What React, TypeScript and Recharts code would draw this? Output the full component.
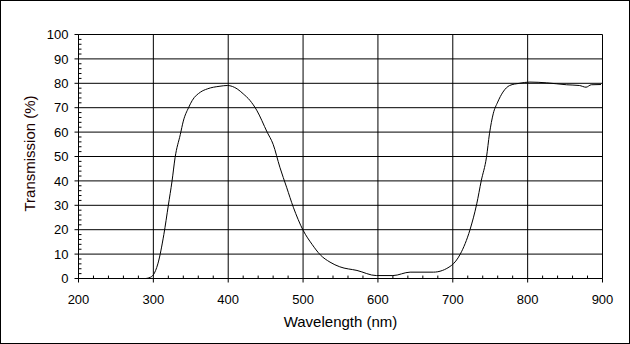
import { LineChart, Line, XAxis, YAxis, CartesianGrid, ReferenceLine } from 'recharts';

// measured transmission curve (nm, %)
const wavelength = [
  290, 296, 300, 306, 314, 320, 325, 329, 336, 340, 347, 352, 363, 372, 389, 399, 412, 420, 429, 438,
  452, 460, 469, 478, 487, 500, 512, 523, 536, 549, 572, 598, 620, 643, 674, 698, 710, 723, 732, 738,
  745, 749, 754, 760, 767, 776, 789, 803, 825, 852, 869, 878, 885, 898,
];
const transmission = [
  0, 0.5, 1.5, 6, 18, 30, 40, 49.5, 59, 64.5, 70, 73, 76.4, 77.7, 78.8, 79.1, 77.7, 75.7, 73, 69,
  60, 55, 45.6, 37.4, 29.2, 19.8, 14, 9.7, 6.7, 4.8, 3.3, 1.2, 1.2, 2.6, 2.6, 5.3, 10, 20, 30.6, 40,
  49.7, 59.3, 67.5, 72.3, 76.4, 79.1, 80, 80.5, 80.2, 79.4, 79.1, 78.4, 79.4, 79.5,
];

const xTicks = [200, 300, 400, 500, 600, 700, 800, 900];
const yTicks = [0, 10, 20, 30, 40, 50, 60, 70, 80, 90, 100];
const xMinor = [220, 240, 260, 280, 320, 340, 360, 380, 420, 440, 460, 480, 520, 540, 560, 580,
  620, 640, 660, 680, 720, 740, 760, 780, 820, 840, 860, 880];
const yMinor = [2, 4, 6, 8, 12, 14, 16, 18, 22, 24, 26, 28, 32, 34, 36, 38, 42, 44, 46, 48,
  52, 54, 56, 58, 62, 64, 66, 68, 72, 74, 76, 78, 82, 84, 86, 88, 92, 94, 96, 98];

const data = wavelength.map((w, i) => ({ w, t: transmission[i] }));

const font = '"Liberation Sans", Arial, sans-serif';
const tickStyle = { fontSize: 13, fill: '#000', fontFamily: font };

export default function App() {
  return (
    <div
      style={{
        position: 'absolute',
        left: 0,
        top: 0,
        width: 630,
        height: 344,
        border: '1px solid #000',
        boxSizing: 'border-box',
        background: '#fff',
      }}
    >
      <LineChart
        width={628}
        height={342}
        data={data}
        margin={{ top: 33.5, right: 26.5, bottom: 34.5, left: 17.5 }}
      >
        <CartesianGrid stroke="#000" strokeWidth={1} />
        <XAxis
          dataKey="w"
          type="number"
          domain={[200, 900]}
          ticks={xTicks}
          interval={0}
          stroke="#000"
          tickSize={4}
          tickMargin={12}
          tick={tickStyle}
          height={30}
          label={(props: any) => (
            <text x={339.5} y={326.3} textAnchor="middle" fontSize={15} fontFamily={font} fill="#000">
              Wavelength (nm)
            </text>
          )}
        />
        <YAxis
          type="number"
          domain={[0, 100]}
          ticks={yTicks}
          interval={0}
          stroke="#000"
          tickSize={4}
          tickMargin={6}
          tick={tickStyle}
          width={60}
          label={(props: any) => (
            <text
              x={34}
              y={152.5}
              transform="rotate(-90 34 152.5)"
              textAnchor="middle"
              fontSize={15}
              fontFamily={font}
              fill="#1a0000"
            >
              Transmission (%)
            </text>
          )}
        />
        {xMinor.map((v) => (
          <ReferenceLine
            key={'x' + v}
            segment={[{ x: v, y: 0 }, { x: v, y: 1.2 }]}
            stroke="#000"
            strokeWidth={1}
          />
        ))}
        {yMinor.map((v) => (
          <ReferenceLine
            key={'y' + v}
            segment={[{ x: 200, y: v }, { x: 204, y: v }]}
            stroke="#000"
            strokeWidth={1}
          />
        ))}
        <Line
          dataKey="t"
          type="monotone"
          stroke="#000"
          strokeWidth={1}
          dot={false}
          isAnimationActive={false}
        />
      </LineChart>
    </div>
  );
}
